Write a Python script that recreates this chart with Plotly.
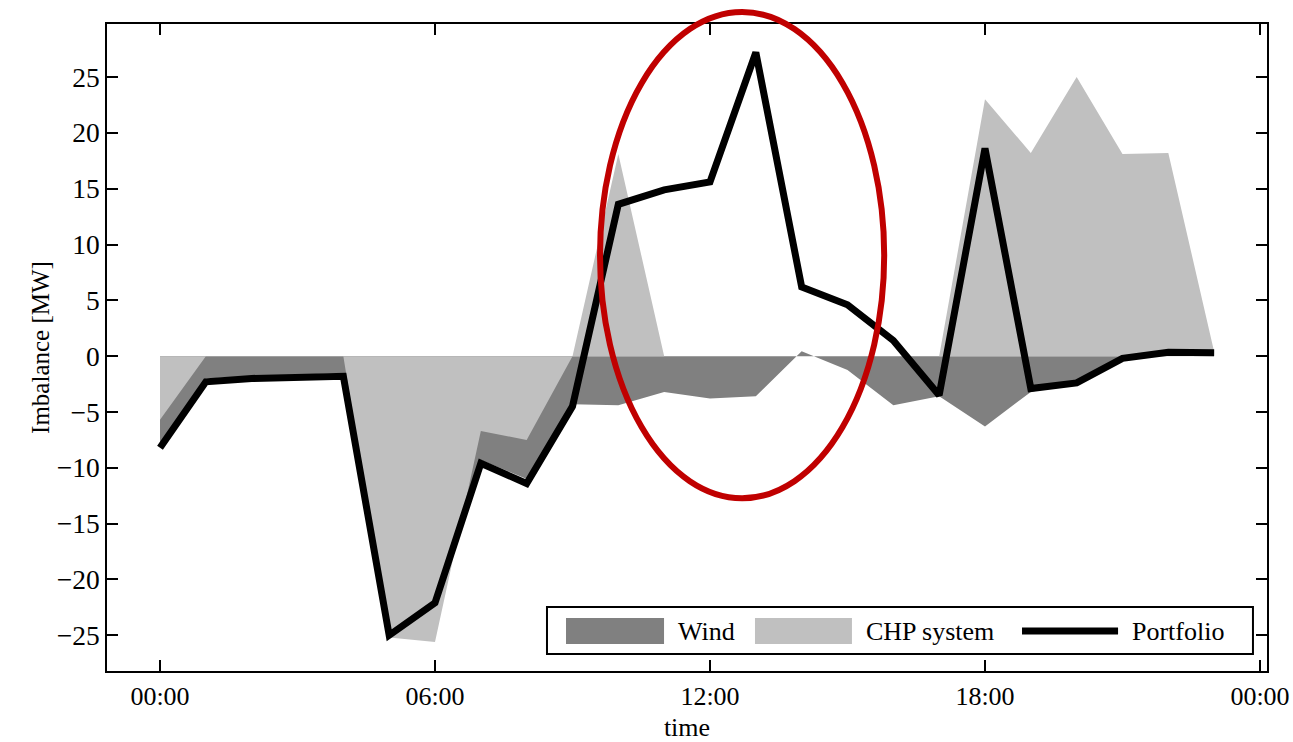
import plotly.graph_objects as go
import pandas as pd

# ---------------- data ----------------
DAY = "2024-01-01"
hours = ["00:00", "01:00", "02:00", "03:00", "04:00", "05:00", "06:00", "07:00",
         "08:00", "09:00", "10:00", "11:00", "12:00", "13:00", "14:00", "15:00",
         "16:00", "17:00", "18:00", "19:00", "20:00", "21:00", "22:00", "23:00"]

wind = [-8.0, -2.0, -1.8, -1.65, -1.5, -24.8, -22.2, -9.3,
        -11.0, -4.3, -4.4, -3.2, -3.8, -3.6, 0.45, -1.25,
        -4.4, -3.6, -6.3, -3.2, -2.3, -0.1, 0.0, 0.0]

chp = [-5.7, 0.0, 0.0, 0.0, 0.0, -25.2, -25.6, -6.7,
       -7.5, 0.0, 18.1, 0.0, 0.0, 0.0, 0.0, 0.0,
       0.0, 0.0, 23.0, 18.2, 25.0, 18.1, 18.2, 0.4]

portfolio = [-8.2, -2.3, -2.0, -1.9, -1.8, -25.0, -22.1, -9.6,
             -11.4, -4.5, 13.6, 14.9, 15.6, 27.2, 6.2, 4.6,
             1.4, -3.5, 18.6, -2.9, -2.4, -0.2, 0.35, 0.3]

series_names = ["Wind", "CHP system", "Portfolio"]
y_ticks = [-25, -20, -15, -10, -5, 0, 5, 10, 15, 20, 25]

# ---------------- styles ----------------
DARK = "rgb(128,128,128)"
LIGHT = "rgb(192,192,192)"
RED = "rgb(192,0,0)"
FONT = "Liberation Serif"

times = pd.to_datetime([f"{DAY} {h}" for h in hours])

fig = go.Figure()
fig.add_trace(go.Scatter(x=times, y=wind, name=series_names[0], mode="lines",
                         line=dict(width=0, color=DARK), fill="tozeroy",
                         fillcolor=DARK, showlegend=False))
fig.add_trace(go.Scatter(x=times, y=chp, name=series_names[1], mode="lines",
                         line=dict(width=0, color=LIGHT), fill="tozeroy",
                         fillcolor=LIGHT, showlegend=False))
fig.add_trace(go.Scatter(x=times, y=portfolio, name=series_names[2], mode="lines",
                         line=dict(width=7, color="black"), showlegend=False))

# ---------------- custom legend (paper coords) ----------------
LEG_BOX = (0.3793, 0.0263, 0.9879, 0.0989)
SW_Y0, SW_Y1, LEG_YC = 0.0417, 0.0819, 0.0618
shapes = [
    dict(type="rect", xref="paper", yref="paper", x0=LEG_BOX[0], y0=LEG_BOX[1],
         x1=LEG_BOX[2], y1=LEG_BOX[3], line=dict(color="black", width=2),
         fillcolor="white", layer="above"),
    dict(type="rect", xref="paper", yref="paper", x0=0.3957, x1=0.4802, y0=SW_Y0, y1=SW_Y1,
         line=dict(width=0), fillcolor=DARK, layer="above"),
    dict(type="rect", xref="paper", yref="paper", x0=0.5586, x1=0.6422, y0=SW_Y0, y1=SW_Y1,
         line=dict(width=0), fillcolor=LIGHT, layer="above"),
    dict(type="line", xref="paper", yref="paper", x0=0.7888, x1=0.8716, y0=LEG_YC, y1=LEG_YC,
         line=dict(color="black", width=7), layer="above"),
    # highlight ellipse
    dict(type="circle", xref="paper", yref="paper", x0=0.425, x1=0.670, y0=0.267, y1=1.0185,
         line=dict(color=RED, width=6), layer="above"),
]
annotations = []
for xt, txt in zip([0.4905, 0.6526, 0.8819], series_names):
    annotations.append(dict(xref="paper", yref="paper", x=xt, y=LEG_YC, text=txt,
                            showarrow=False, xanchor="left", yanchor="middle",
                            font=dict(family=FONT, size=26, color="black")))

fig.update_layout(
    width=1293, height=742,
    margin=dict(l=107, r=26, t=24, b=71, autoexpand=False),
    paper_bgcolor="white", plot_bgcolor="white",
    font=dict(family=FONT, size=26, color="black"),
    shapes=shapes, annotations=annotations,
    showlegend=False,
    xaxis=dict(
        type="date", automargin=False,
        range=["2023-12-31 22:50:36", "2024-01-02 00:09:11"],
        tick0=DAY, dtick=6 * 3600 * 1000, tickformat="%H:%M",
        ticks="inside", ticklen=11, tickwidth=1.5, tickcolor="black",
        showline=True, linecolor="black", linewidth=1.5, mirror="ticks",
        showgrid=False, zeroline=False,
        ticklabelstandoff=1,
        tickfont=dict(family=FONT, size=26),
        title=dict(text="time", font=dict(family=FONT, size=26), standoff=15),
    ),
    yaxis=dict(
        automargin=False,
        range=[-28.2, 29.75],
        tickvals=y_ticks,
        ticks="inside", ticklen=11, tickwidth=1.5, tickcolor="black",
        showline=True, linecolor="black", linewidth=1.5, mirror="ticks",
        showgrid=False, zeroline=False,
        ticklabelstandoff=0,
        tickfont=dict(family=FONT, size=27.5),
        title=dict(text="Imbalance [MW]", font=dict(family=FONT, size=25), standoff=0),
    ),
)

fig.write_html("out.html", config={"displayModeBar": False},
               post_script="document.body.style.margin='0';document.body.style.overflow='hidden';")
